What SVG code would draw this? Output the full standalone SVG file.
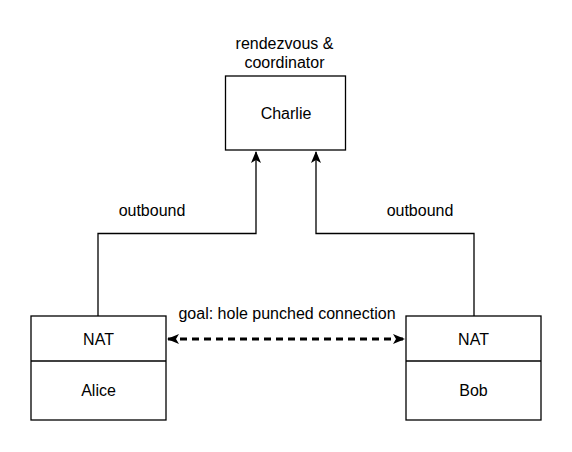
<svg xmlns="http://www.w3.org/2000/svg" width="572" height="452" viewBox="0 0 572 452">
<style>
text{font-family:"Liberation Sans",Arial,sans-serif;font-size:16px;fill:#000;text-anchor:middle}
.box{fill:#fff;stroke:#000;stroke-width:1.3}
.edge{fill:none;stroke:#000;stroke-width:1.3}
.dash{fill:none;stroke:#000;stroke-width:3;stroke-dasharray:7 5}
</style>
<defs>
<marker id="ah" viewBox="0 0 12 10" refX="11" refY="5" markerWidth="12" markerHeight="10" markerUnits="userSpaceOnUse" orient="auto">
<path d="M0,0 L12,5 L0,10 L3,5 Z" fill="#000"/>
</marker>
<marker id="ahs" viewBox="0 0 12 10" refX="11" refY="5" markerWidth="12" markerHeight="10" markerUnits="userSpaceOnUse" orient="auto-start-reverse">
<path d="M0,0 L12,5 L0,10 L3,5 Z" fill="#000"/>
</marker>
</defs>
<rect width="572" height="452" fill="#fff"/>
<g id="connectors">
<path class="edge" d="M98,316 V233.5 H256 V152" marker-end="url(#ah)"/>
<path class="edge" d="M474,316 V233.5 H316 V152" marker-end="url(#ah)"/>
<text x="152" y="216">outbound</text>
<text x="420" y="216">outbound</text>
<path class="dash" d="M168,339 H404" marker-start="url(#ahs)" marker-end="url(#ahs)"/>
<text x="287" y="319">goal: hole punched connection</text>
</g>
<g id="charlie">
<text x="284.5" y="49">rendezvous &amp;</text>
<text x="284.5" y="68">coordinator</text>
<rect class="box" x="225.5" y="76" width="120" height="74"/>
<text x="286" y="119">Charlie</text>
</g>
<g id="alice">
<rect class="box" x="31" y="316" width="135" height="104"/>
<line class="edge" x1="31" y1="361" x2="166" y2="361"/>
<text x="98.5" y="345">NAT</text>
<text x="98.5" y="396">Alice</text>
</g>
<g id="bob">
<rect class="box" x="406" y="316" width="135" height="104"/>
<line class="edge" x1="406" y1="361" x2="541" y2="361"/>
<text x="473.5" y="345">NAT</text>
<text x="473.5" y="396">Bob</text>
</g>
</svg>
